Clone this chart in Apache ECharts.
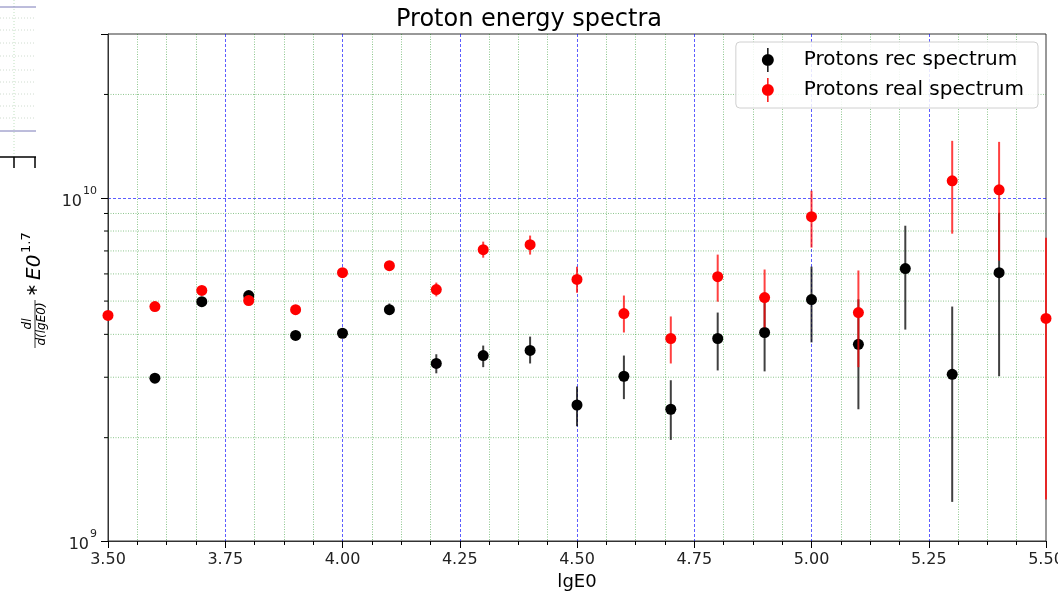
<!DOCTYPE html>
<html><head><meta charset="utf-8">
<script src="https://cdn.jsdelivr.net/npm/echarts@6/dist/echarts.min.js"></script>
<style>html,body{margin:0;padding:0;background:#fff}#c{width:1058px;height:598px}</style>
</head><body><div id="c"></div>
<script>
const lgE0 = [3.5, 3.6, 3.7, 3.8, 3.9, 4.0, 4.1, 4.2, 4.3, 4.4, 4.5, 4.6, 4.7, 4.8, 4.9, 5.0, 5.1, 5.2, 5.3, 5.4, 5.5];
const recValues = [null, 2.98e9, 4.98e9, 5.19e9, 3.97e9, 4.03e9, 4.72e9, 3.29e9, 3.47e9, 3.59e9, 2.49e9, 3.02e9, 2.42e9, 3.89e9, 4.05e9, 5.05e9, 3.74e9, 6.22e9, 3.06e9, 6.05e9, null];
const recLow = [null, 2.94e9, 4.92e9, 5.12e9, 3.92e9, 3.97e9, 4.60e9, 3.08e9, 3.21e9, 3.29e9, 2.16e9, 2.59e9, 1.97e9, 3.14e9, 3.12e9, 3.79e9, 2.42e9, 4.13e9, 1.30e9, 3.02e9, null];
const recHigh = [null, 3.02e9, 5.04e9, 5.26e9, 4.02e9, 4.09e9, 4.92e9, 3.50e9, 3.71e9, 3.94e9, 2.82e9, 3.47e9, 2.94e9, 4.63e9, 4.98e9, 6.30e9, 5.06e9, 8.29e9, 4.82e9, 9.04e9, null];
const realValues = [4.54e9, 4.82e9, 5.37e9, 5.02e9, 4.72e9, 6.05e9, 6.34e9, 5.40e9, 7.06e9, 7.30e9, 5.78e9, 4.60e9, 3.89e9, 5.89e9, 5.12e9, 8.81e9, 4.63e9, null, 1.12e10, 1.055e10, 4.45e9];
const realLow = [4.48e9, 4.77e9, 5.31e9, 4.96e9, 4.67e9, 5.98e9, 6.20e9, 5.16e9, 6.69e9, 6.83e9, 5.29e9, 4.05e9, 3.29e9, 4.98e9, 4.19e9, 7.16e9, 3.21e9, null, 7.86e9, 6.56e9, 1.32e9];
const realHigh = [4.60e9, 4.87e9, 5.43e9, 5.08e9, 4.77e9, 6.12e9, 6.48e9, 5.66e9, 7.45e9, 7.76e9, 6.30e9, 5.19e9, 4.51e9, 6.83e9, 6.18e9, 1.048e10, 6.14e9, null, 1.465e10, 1.455e10, 7.65e9];
const xTickLabels = ['3.50','3.75','4.00','4.25','4.50','4.75','5.00','5.25','5.50'];
const yMinorTicks = [2e9, 3e9, 4e9, 5e9, 6e9, 7e9, 8e9, 9e9, 2e10];

const FONT = 'DejaVu Sans';
function pts(vals) { const o = []; lgE0.forEach((x, i) => { if (vals[i] != null) o.push([x, vals[i]]); }); return o; }
function errs(lo, hi) { const o = []; lgE0.forEach((x, i) => { if (lo[i] != null) o.push([x, lo[i], hi[i]]); }); return o; }
function errRender(color) {
  return function (params, api) {
    const p1 = api.coord([api.value(0), api.value(1)]);
    const p2 = api.coord([api.value(0), api.value(2)]);
    return { type: 'line', shape: { x1: p1[0], y1: p1[1], x2: p2[0], y2: p2[1] },
      style: { stroke: color, lineWidth: 2, opacity: 0.75 } };
  };
}
const icon = 'path://M5.3,0H6.7V24H5.3Z M12,12A6,6 0 1 1 0,12A6,6 0 1 1 12,12Z';

const chart = echarts.init(document.getElementById('c'), null, { renderer: 'canvas' });
chart.setOption({
  animation: false,
  backgroundColor: '#fff',
  title: { text: 'Proton energy spectra', left: 'center', top: 8, padding: 0,
    textStyle: { fontFamily: FONT, fontSize: 24, fontWeight: 'normal', color: '#000' } },
  grid: { left: 108, right: 12, top: 34, bottom: 57, containLabel: false, outerBoundsMode: 'none',
    show: true, borderColor: '#333', borderWidth: 1, backgroundColor: 'transparent' },
  legend: {
    orient: 'vertical', right: 20, top: 42, padding: [6, 14, 6, 26], itemGap: 6,
    itemWidth: 12, itemHeight: 24,
    backgroundColor: 'rgba(255,255,255,0.85)', borderColor: '#d0d0d0', borderWidth: 1, borderRadius: 4,
    textStyle: { fontFamily: FONT, fontSize: 20, color: '#000', padding: [0, 0, 0, 25] },
    data: [{ name: 'Protons rec spectrum', icon: icon }, { name: 'Protons real spectrum', icon: icon }]
  },
  xAxis: {
    type: 'value', min: 3.5, max: 5.5, interval: 0.25,
    name: 'lgE0', nameLocation: 'middle', nameGap: 28,
    nameTextStyle: { fontFamily: FONT, fontSize: 18, color: '#000' },
    axisLine: { lineStyle: { color: '#333', width: 1 } },
    axisTick: { length: 7, lineStyle: { color: '#000', width: 1 } },
    minorTick: { show: true, splitNumber: 4, length: 4, lineStyle: { color: '#000', width: 1 } },
    axisLabel: { fontFamily: FONT, fontSize: 16, color: '#222', margin: 11, showMaxLabel: true, showMinLabel: true,
      formatter: v => { const s = v.toFixed(2); return xTickLabels.indexOf(s) >= 0 ? s : ''; } },
    splitLine: { show: true, showMinLine: false, showMaxLine: false, lineStyle: { color: 'rgba(0,0,255,0.8)', width: 0.8, type: [3, 2] } },
    minorSplitLine: { show: true, lineStyle: { color: 'rgba(0,128,0,0.45)', width: 1, type: [1, 1.5] } }
  },
  yAxis: {
    type: 'log', logBase: 10, min: 1e9, max: 3e10,
    axisLine: { show: true, lineStyle: { color: '#333', width: 1 } },
    axisTick: { show: true, length: 7, lineStyle: { color: '#000', width: 1 } },
    axisLabel: { margin: 11, color: '#222',
      formatter: v => { const e = Math.log10(v); if (Math.abs(e - Math.round(e)) > 1e-6) return ''; return '{b|10}{s|' + Math.round(e) + '}'; },
      rich: { b: { fontFamily: FONT, fontSize: 16, color: '#222', lineHeight: 24, verticalAlign: 'bottom' },
              s: { fontFamily: FONT, fontSize: 11, color: '#222', lineHeight: 24, verticalAlign: 'top', padding: [0, 0, 0, 1] } } },
    splitLine: { show: true, showMinLine: false, showMaxLine: false, lineStyle: { color: 'rgba(0,0,255,0.8)', width: 0.8, type: [3, 2] } }
  },
  series: [
    { type: 'custom', name: 'minorGrid', silent: true, clip: false, z: 1,
      data: yMinorTicks.map(v => [3.5, v]),
      encode: { x: 0, y: 1 },
      renderItem: function (params, api) {
        const a = api.coord([3.5, api.value(1)]);
        const b = api.coord([5.5, api.value(1)]);
        return { type: 'group', children: [
          { type: 'line', shape: { x1: a[0], y1: a[1], x2: b[0], y2: b[1] }, style: { stroke: 'rgba(0,128,0,0.45)', lineWidth: 1, lineDash: [1, 1.5] } },
          { type: 'line', shape: { x1: a[0] - 4, y1: a[1], x2: a[0], y2: a[1] }, style: { stroke: '#000', lineWidth: 1 } }
        ] };
      } },
    { type: 'custom', name: 'recErr', clip: false, z: 2, data: errs(recLow, recHigh), encode: { x: 0, y: [1, 2] }, renderItem: errRender('#000') },
    { type: 'scatter', name: 'Protons rec spectrum', z: 3, symbol: 'circle', symbolSize: 11, itemStyle: { color: '#000', opacity: 1 }, data: pts(recValues) },
    { type: 'custom', name: 'realErr', clip: false, z: 4, data: errs(realLow, realHigh), encode: { x: 0, y: [1, 2] }, renderItem: errRender('#ff0000') },
    { type: 'scatter', name: 'Protons real spectrum', z: 5, symbol: 'circle', symbolSize: 11, itemStyle: { color: '#ff0000', opacity: 1 }, data: pts(realValues) }
  ],
  graphic: [
    { type: 'group', x: 35, y: 348, rotation: Math.PI / 2, children: [
      { type: 'line', shape: { x1: 0, y1: 0, x2: 48, y2: 0 }, style: { stroke: '#000', lineWidth: 0.8 } },
      { type: 'text', x: 24, y: -1, style: { text: 'dl', font: 'italic 12px "DejaVu Sans"', fill: '#000', align: 'center', verticalAlign: 'bottom' } },
      { type: 'text', x: 24, y: 1, style: { text: 'd(lgE0)', font: 'italic 12px "DejaVu Sans"', fill: '#000', align: 'center', verticalAlign: 'top' } },
      { type: 'text', x: 58, y: -2, style: { text: '\u2217', font: '16px "DejaVu Sans"', fill: '#000', align: 'center', verticalAlign: 'middle' } },
      { type: 'text', x: 68, y: 0, style: { text: 'E0', font: 'italic 20px "DejaVu Sans"', fill: '#000', align: 'left', verticalAlign: 'middle' } },
      { type: 'text', x: 95, y: -8, style: { text: '1.7', font: '13px "DejaVu Sans"', fill: '#000', align: 'left', verticalAlign: 'middle' } }
    ] },
    { type: 'group', x: 0, y: 0, silent: true, children: [
      { type: 'line', shape: { x1: 14, y1: 0, x2: 14, y2: 160 }, style: { stroke: '#bfe0bf', lineWidth: 1, lineDash: [1, 2] } },
      { type: 'line', shape: { x1: 0, y1: 18, x2: 36, y2: 18 }, style: { stroke: '#d0dcd0', lineWidth: 1, lineDash: [1, 2] } },
      { type: 'line', shape: { x1: 0, y1: 30, x2: 36, y2: 30 }, style: { stroke: '#d0dcd0', lineWidth: 1, lineDash: [1, 2] } },
      { type: 'line', shape: { x1: 0, y1: 43, x2: 36, y2: 43 }, style: { stroke: '#d0dcd0', lineWidth: 1, lineDash: [1, 2] } },
      { type: 'line', shape: { x1: 0, y1: 56, x2: 36, y2: 56 }, style: { stroke: '#d0dcd0', lineWidth: 1, lineDash: [1, 2] } },
      { type: 'line', shape: { x1: 0, y1: 70, x2: 36, y2: 70 }, style: { stroke: '#d0dcd0', lineWidth: 1, lineDash: [1, 2] } },
      { type: 'line', shape: { x1: 0, y1: 82, x2: 36, y2: 82 }, style: { stroke: '#d0dcd0', lineWidth: 1, lineDash: [1, 2] } },
      { type: 'line', shape: { x1: 0, y1: 94, x2: 36, y2: 94 }, style: { stroke: '#d0dcd0', lineWidth: 1, lineDash: [1, 2] } },
      { type: 'line', shape: { x1: 0, y1: 106, x2: 36, y2: 106 }, style: { stroke: '#d0dcd0', lineWidth: 1, lineDash: [1, 2] } },
      { type: 'line', shape: { x1: 0, y1: 118, x2: 36, y2: 118 }, style: { stroke: '#d0dcd0', lineWidth: 1, lineDash: [1, 2] } },
      { type: 'line', shape: { x1: 0, y1: 7, x2: 36, y2: 7 }, style: { stroke: '#7a7ab8', lineWidth: 1 } },
      { type: 'line', shape: { x1: 0, y1: 131, x2: 36, y2: 131 }, style: { stroke: '#7a7ab8', lineWidth: 1 } },
      { type: 'line', shape: { x1: 0, y1: 157, x2: 36, y2: 157 }, style: { stroke: '#000', lineWidth: 1.5 } },
      { type: 'line', shape: { x1: 14, y1: 157, x2: 14, y2: 168 }, style: { stroke: '#000', lineWidth: 1.5 } },
      { type: 'line', shape: { x1: 35, y1: 157, x2: 35, y2: 168 }, style: { stroke: '#000', lineWidth: 1.5 } }
    ] }
  ]
});
</script>
</body></html>
